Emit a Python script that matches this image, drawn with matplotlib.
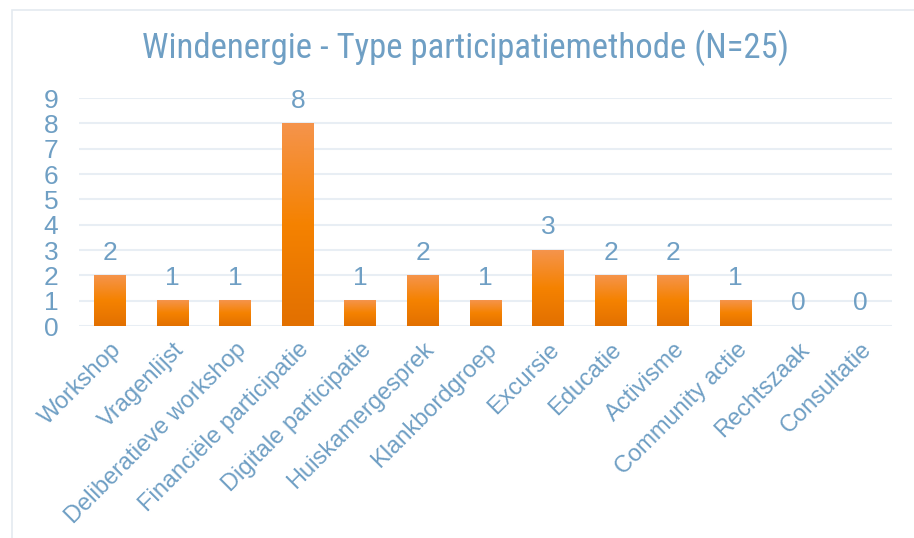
import numpy as np
import matplotlib
matplotlib.use('Agg')
import matplotlib.pyplot as plt
from matplotlib.colors import LinearSegmentedColormap
from matplotlib.patches import Rectangle

categories = ['Workshop', 'Vragenlijst', 'Deliberatieve workshop', 'Financiële participatie',
              'Digitale participatie', 'Huiskamergesprek', 'Klankbordgroep', 'Excursie',
              'Educatie', 'Activisme', 'Community actie', 'Rechtszaak', 'Consultatie']
counts = [2, 1, 1, 8, 1, 2, 1, 3, 2, 2, 1, 0, 0]
title = 'Windenergie - Type participatiemethode (N=25)'

text_color = '#6f9fc4'
grid_color = '#e8eef4'
label_font = ['Liberation Sans', 'DejaVu Sans']

W, H = 914, 538
fig = plt.figure(figsize=(W / 100, H / 100), dpi=100)
ax = fig.add_axes([79 / W, 1 - 326 / H, (892 - 79) / W, (326 - 98) / H])

# outer chart frame
fig.patches.append(Rectangle((12 / W, -0.1), 1.2, 1 - 10 / H + 0.1, transform=fig.transFigure,
                             fill=False, edgecolor='#e4eaf0', linewidth=1.2))

x = np.arange(len(categories))
width = 0.51
bars = ax.bar(x, counts, width=width, color='none', edgecolor='none', zorder=2)

grad = LinearSegmentedColormap.from_list('g', ['#e27000', '#f58200', '#f5944c'])
g = np.linspace(0, 1, 256).reshape(-1, 1)
for b in bars:
    h = b.get_height()
    if h <= 0:
        continue
    ax.imshow(g, cmap=grad, origin='lower', aspect='auto', zorder=2,
              extent=(b.get_x(), b.get_x() + b.get_width(), 0, h))

for xi, v in zip(x, counts):
    ax.text(xi, v + 0.42, str(v), ha='center', va='bottom', color=text_color,
            fontsize=19, family=label_font)

ax.set_xlim(-0.5, len(categories) - 0.5)
ax.set_ylim(0, 9)
ax.set_yticks(range(0, 10))
ax.yaxis.grid(True, color=grid_color, linewidth=1.5, zorder=0)
ax.set_axisbelow(True)
for s in ax.spines.values():
    s.set_visible(False)
ax.tick_params(length=0, colors=text_color)
ax.tick_params(axis='y', labelsize=19, pad=15)
ax.set_xticks(x)
ax.set_xticklabels(categories, rotation=45, ha='right', rotation_mode='anchor',
                   fontsize=17, family=label_font)
ax.tick_params(axis='x', pad=9)
for lab in ax.get_yticklabels():
    lab.set_family(label_font)

fig.text(465 / W, 1 - 48 / H, title, ha='center', va='center', color=text_color,
         fontsize=25, family=['Roboto Condensed', 'DejaVu Sans'])

fig.savefig('out.png', dpi=100)
